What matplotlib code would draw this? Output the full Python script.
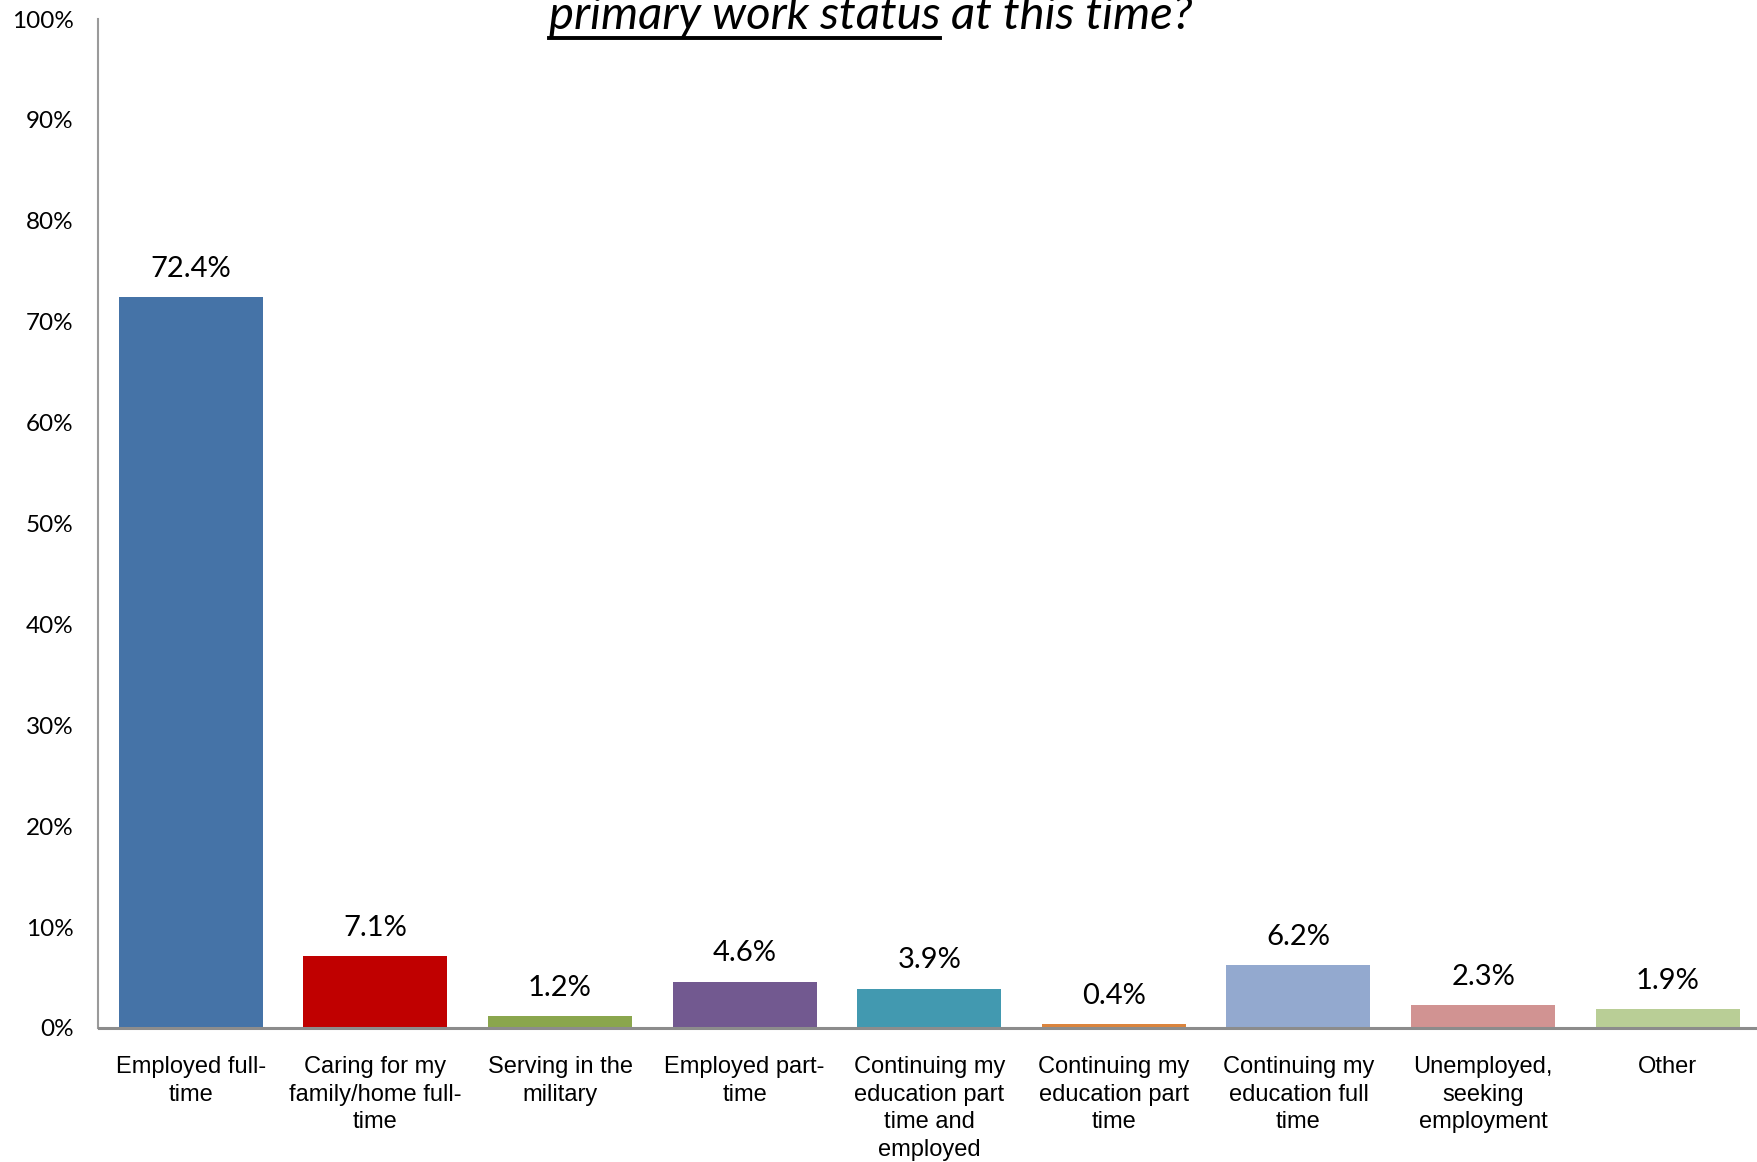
import matplotlib
matplotlib.use("Agg")
import matplotlib.pyplot as plt
from matplotlib.ticker import PercentFormatter

# Survey answers and shares (percent)
categories = [
    "Employed full-\ntime",
    "Caring for my\nfamily/home full-\ntime",
    "Serving in the\nmilitary",
    "Employed part-\ntime",
    "Continuing my\neducation part\ntime and\nemployed",
    "Continuing my\neducation part\ntime",
    "Continuing my\neducation full\ntime",
    "Unemployed,\nseeking\nemployment",
    "Other",
]
values = [72.4, 7.1, 1.2, 4.6, 3.9, 0.4, 6.2, 2.3, 1.9]
colors = ["#4573A7", "#C00000", "#8AA64D", "#725990", "#4299B0",
          "#DB843D", "#93A9CF", "#D19392", "#B9CE96"]
yticks = list(range(0, 101, 10))

W, H, DPI = 1758, 1162, 100
fig = plt.figure(figsize=(W / DPI, H / DPI), dpi=DPI)
left, right = 98.5 / W, 1760 / W
bottom, top = 1 - 1028 / H, 1 - 19 / H
ax = fig.add_axes([left, bottom, right - left, top - bottom])

x = range(len(categories))
bars = ax.bar(x, values, width=0.78, color=colors, zorder=2)

ax.set_xlim(-0.5, len(categories) - 0.5)
ax.set_ylim(0, 100)
ax.set_yticks(yticks)
ax.yaxis.set_major_formatter(PercentFormatter(decimals=0))
ax.tick_params(axis="y", length=0, pad=18, labelsize=17.5)
for lab in ax.get_yticklabels():
    lab.set_fontfamily("Lato")

ax.set_xticks(list(x))
ax.set_xticklabels(categories, fontfamily="Liberation Sans", fontsize=17,
                   linespacing=1.34, va="top")
ax.tick_params(axis="x", length=0, pad=20)

for s in ["top", "right"]:
    ax.spines[s].set_visible(False)
ax.spines["left"].set_color("#9A9A9A")
ax.spines["left"].set_linewidth(1.5)
ax.spines["bottom"].set_color("#8C8C8C")
ax.spines["bottom"].set_linewidth(2.2)

for b, v in zip(bars, values):
    ax.annotate(f"{v:.1f}%", (b.get_x() + b.get_width() / 2, v),
                xytext=(0, 11), textcoords="offset points",
                ha="center", va="bottom", fontsize=21, fontfamily="Lato")

# title line, partly cut off at the top of the picture (as in the source)
t1 = "primary work status"
t2 = " at this time?"
tkw = dict(fontsize=34, fontstyle="italic", fontfamily="Lato", va="baseline")
fig.canvas.draw()
r = fig.canvas.get_renderer()
a = fig.text(0, 0, t1, **tkw)
b = fig.text(0, 0, t2, **tkw)
wa = a.get_window_extent(r).width
wb = b.get_window_extent(r).width
x0 = 871 - (wa + wb) / 2
ybase = 1 - 29 / H
a.set_position((x0 / W, ybase))
b.set_position(((x0 + wa) / W, ybase))
fig.add_artist(plt.Line2D([x0 / W, (x0 + wa) / W], [1 - 38 / H] * 2,
                          color="black", linewidth=2.8))

fig.savefig("out.png", dpi=DPI)
